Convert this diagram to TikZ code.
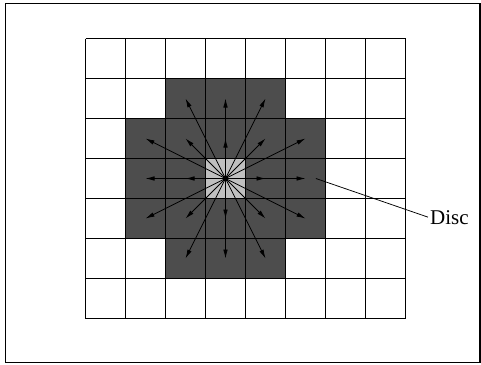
\documentclass[tikz,border=0pt]{standalone}
\usepackage{fontspec}
\setmainfont{Liberation Serif}
\usetikzlibrary{arrows.meta}
\definecolor{darkcell}{HTML}{4D4D4D}
\definecolor{lightcell}{HTML}{C0C0C0}
\begin{document}
\begin{tikzpicture}[x=1pt,y=-1pt,
  frame/.style={line width=1.2pt},
  gridline/.style={line width=1.2pt},
  ray/.style={line width=0.75pt,-{Latex[length=9pt,width=4.5pt]}},
  leader/.style={line width=0.75pt},
  label/.style={font=\fontsize{21}{25}\selectfont,inner sep=2pt}]
\useasboundingbox (0,0) rectangle (481,364);
\draw[frame] (5.5,3.5) rectangle (480,362.5);
\begin{scope}[xshift=85.5pt,yshift=-38.5pt,x=40pt,y=-40pt]
  % dark disc cells
  \fill[darkcell] (2,1) rectangle (5,2);
  \fill[darkcell] (1,2) rectangle (6,5);
  \fill[darkcell] (2,5) rectangle (5,6);
  \fill[lightcell] (3,3) rectangle (4,4);
  % grid
  \foreach \i in {0,...,8} \draw[gridline] (\i,0) -- (\i,7);
  \foreach \j in {0,...,7} \draw[gridline] (0,\j) -- (8,\j);
  % rays
  \coordinate (c) at (3.5,3.5);
  \foreach \dx/\dy [count=\k] in {0/-1,0/-2,0/1,0/2,-1/0,-2/0,1/0,2/0,
      -1/-1,1/-1,-1/1,1/1,-1/-2,1/-2,-1/2,1/2,-2/-1,2/-1,-2/1,2/1}{
    \path (c) ++(\dx,\dy) coordinate (t\k);
    \draw[ray] (c) -- (t\k);
  }
  \fill (c) circle[radius=2pt];
  \coordinate (dp) at (5.76,3.5);
\end{scope}
\node[label,anchor=base west] (disc) at (428,224) {Disc};
\draw[leader] (dp) -- (disc.west);
\end{tikzpicture}
\end{document}
